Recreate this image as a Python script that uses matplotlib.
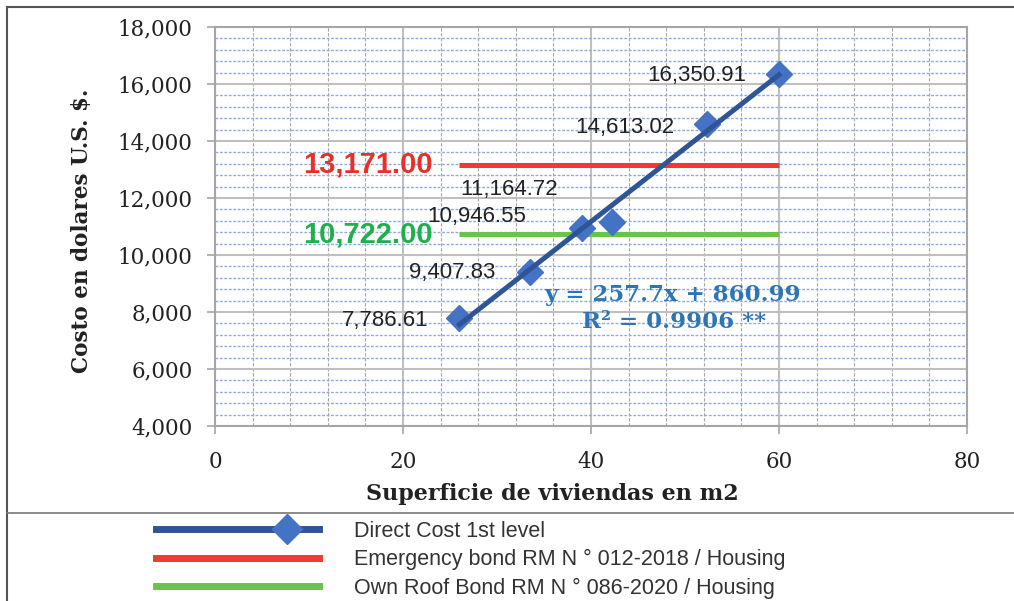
import matplotlib
matplotlib.use('Agg')
import matplotlib.pyplot as plt
from matplotlib.lines import Line2D
from matplotlib.legend_handler import HandlerLine2D
from matplotlib.ticker import MultipleLocator, FuncFormatter
import numpy as np

# data
area = [26, 33.5, 39, 42.2, 52.3, 60]
cost = [7786.61, 9407.83, 10946.55, 11164.72, 14613.02, 16350.91]
slope = 257.7
intercept = 860.99
r2 = 0.9906
emergency_bond = 13171.00
own_roof_bond = 10722.00

series_names = ['Direct Cost 1st level',
                'Emergency bond RM N ° 012-2018 / Housing',
                'Own Roof Bond RM N ° 086-2020 / Housing']

# label offsets (pixels) for each data label
label_offsets = [(-31, -2), (-34, -1), (-55, 12), (-54, 32), (-32, -4), (-33, -2)]

blue_mark = '#4472C4'
blue_line = '#2F5597'
red = '#EE3A2F'
green = '#6DC24B'
serif = ['DejaVu Serif']
sans = ['Liberation Sans', 'DejaVu Sans']
narrow = ['Liberation Sans Narrow', 'Liberation Sans', 'DejaVu Sans']

fig = plt.figure(figsize=(10.14, 6.01), dpi=100)
ax = fig.add_axes([0.212, 0.2912, 0.7416, 0.6639])

ax.set_xlim(0, 80)
ax.set_ylim(4000, 18000)
ax.xaxis.set_major_locator(MultipleLocator(20))
ax.xaxis.set_minor_locator(MultipleLocator(4))
ax.yaxis.set_major_locator(MultipleLocator(2000))
ax.yaxis.set_minor_locator(MultipleLocator(400))
ax.yaxis.set_major_formatter(FuncFormatter(lambda v, p: f'{v:,.0f}'))

ax.grid(which='major', color='#BFBFBF', linewidth=1.5, zorder=0)
ax.grid(which='minor', axis='x', color='#A6A6A6', linewidth=0.8, linestyle=(0, (3, 1.5)), zorder=0)
ax.grid(which='minor', axis='y', color='#8FAADC', linewidth=1.0, linestyle=(0, (2, 1.2)), zorder=0)
ax.set_axisbelow(True)

for s in ax.spines.values():
    s.set_color('#A6A6A6')
    s.set_linewidth(1.5)

ax.tick_params(which='major', length=6, width=1.2, color='#A6A6A6', labelsize=15.5)
ax.tick_params(axis='x', which='major', pad=12)
ax.tick_params(axis='y', which='major', pad=10)
ax.tick_params(which='minor', length=0)
for lab in ax.get_xticklabels() + ax.get_yticklabels():
    lab.set_fontfamily(serif)
    lab.set_color('#222222')

# reference bonds
ax.hlines(emergency_bond, area[0], area[-1], color=red, linewidth=3.6, zorder=3)
ax.hlines(own_roof_bond, area[0], area[-1], color=green, linewidth=3.6, zorder=3)
ax.annotate(f'{emergency_bond:,.2f}', (area[0], emergency_bond), xytext=(-27, 0),
            textcoords='offset pixels', ha='right', va='center', color='#E8302A',
            fontsize=21, fontweight='bold', family=sans)
ax.annotate(f'{own_roof_bond:,.2f}', (area[0], own_roof_bond), xytext=(-27, 0),
            textcoords='offset pixels', ha='right', va='center', color='#1EB04A',
            fontsize=21, fontweight='bold', family=sans)

# points and trendline
ax.plot(area, cost, linestyle='none', marker='D', markersize=13.5, color=blue_mark, zorder=4)
xt = np.array([area[0], area[-1]])
ax.plot(xt, slope * xt + intercept, color=blue_line, linewidth=3.6, zorder=5)

for x, y, (dx, dy) in zip(area, cost, label_offsets):
    ax.annotate(f'{y:,.2f}', (x, y), xytext=(dx, dy), textcoords='offset pixels',
                ha='right', va='center', fontsize=16, color='#222222', family=sans, zorder=6)

ax.text(0.609, 0.328, f'y = {slope}x + {intercept}', transform=ax.transAxes, ha='center',
        va='center', color='#2E75B6', fontsize=16.5, fontweight='bold', family=serif)
ax.text(0.61, 0.26, f'R² = {r2} **', transform=ax.transAxes, ha='center',
        va='center', color='#2E75B6', fontsize=16.5, fontweight='bold', family=serif)

ax.set_xlabel('Superficie de viviendas en m2', fontsize=16, fontweight='bold', family=serif, color='#222222')
ax.xaxis.set_label_coords(0.449, -0.142)
ax.set_ylabel('Costo en dolares U.S. $.', fontsize=15.5, fontweight='bold', family=serif, color='#222222')
ax.yaxis.set_label_coords(-0.162, 0.49)


# legend with the marker sitting to the right on the line
class RightMarker(HandlerLine2D):
    def create_artists(self, legend, orig_handle, xdescent, ydescent, width, height, fontsize, trans):
        artists = super().create_artists(legend, orig_handle, xdescent, ydescent,
                                         width, height, fontsize, trans)
        artists[0].set_xdata([-xdescent, -xdescent + 0.8 * width, -xdescent + width])
        return artists


handles = [Line2D([], [], color=blue_line, linewidth=5, marker='D', markersize=15,
                  markerfacecolor=blue_mark, markeredgecolor=blue_mark),
           Line2D([], [], color=red, linewidth=5),
           Line2D([], [], color=green, linewidth=5)]
leg = fig.legend(handles, series_names, loc='upper left', bbox_to_anchor=(0.145, 0.148),
                 frameon=False, handlelength=7.6, handletextpad=1.6, labelspacing=0.35,
                 borderaxespad=0, prop={'family': narrow, 'size': 15.5},
                 handler_map={handles[0]: RightMarker()})
for t in leg.get_texts():
    t.set_color('#333333')

# outer frame
fig.add_artist(Line2D([0.0069, 1], [0.9884, 0.9884], transform=fig.transFigure, color='#555555', linewidth=1.5))
fig.add_artist(Line2D([0.0069, 0.0069], [0, 0.9884], transform=fig.transFigure, color='#555555', linewidth=1.5))
fig.add_artist(Line2D([0.0069, 1], [0.1464, 0.1464], transform=fig.transFigure, color='#777777', linewidth=1.2))

fig.savefig('out.png', dpi=100)
